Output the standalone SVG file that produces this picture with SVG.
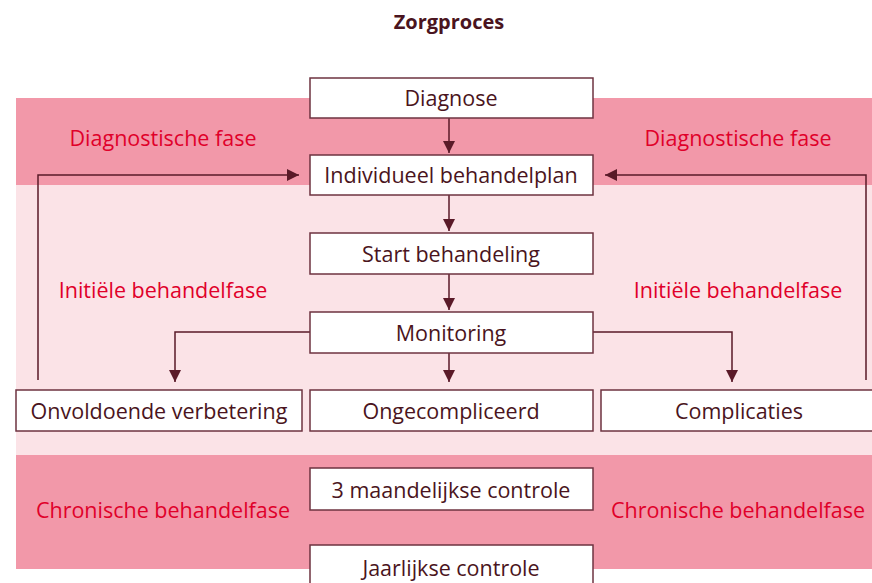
<svg xmlns="http://www.w3.org/2000/svg" width="872" height="583" viewBox="0 0 872 583">
<defs>
<marker id="ah" viewBox="0 0 10 10" refX="10" refY="5" markerWidth="12" markerHeight="12" markerUnits="userSpaceOnUse" orient="auto">
<path d="M0,0 L10,5 L0,10 z" fill="#5a1a28"/>
</marker>
<style>
.band-d{fill:#f298a9}
.band-l{fill:#fbe3e7}
.box{fill:#fff;stroke:#6e3340;stroke-width:1.5}
.t{font-family:"Open Sans","Noto Sans",sans-serif;font-size:21.5px;fill:#4a1420;text-anchor:middle}
.ph{font-family:"Open Sans","Noto Sans",sans-serif;font-size:21.5px;fill:#e0002a;text-anchor:middle}
.c{fill:none;stroke:#5a1a28;stroke-width:1.5;marker-end:url(#ah)}
</style>
</defs>
<rect width="872" height="583" fill="#fff"/>
<text x="449" y="29" class="t" style="font-weight:bold;font-size:20px">Zorgproces</text>
<g id="bands">
<rect class="band-d" x="16" y="98" width="856" height="87"/>
<rect class="band-l" x="16" y="185" width="856" height="270"/>
<rect class="band-d" x="16" y="455" width="856" height="114"/>
</g>
<g id="phases">
<text class="ph" x="163" y="146">Diagnostische fase</text>
<text class="ph" x="738" y="146">Diagnostische fase</text>
<text class="ph" x="163" y="298">Initiële behandelfase</text>
<text class="ph" x="738" y="298">Initiële behandelfase</text>
<text class="ph" x="163" y="518">Chronische behandelfase</text>
<text class="ph" x="738" y="518">Chronische behandelfase</text>
</g>
<g id="connectors">
<path class="c" d="M449,118 V153"/>
<path class="c" d="M449,195 V231"/>
<path class="c" d="M449,274 V310"/>
<path class="c" d="M449,353 V382"/>
<path class="c" d="M310,332 H175 V382"/>
<path class="c" d="M593,332 H732 V382"/>
<path class="c" d="M38,380 V175 H299"/>
<path class="c" d="M866,380 V175 H605"/>
</g>
<g id="n-diagnose"><rect class="box" x="310" y="78" width="283" height="40"/><text class="t" x="451" y="106">Diagnose</text></g>
<g id="n-plan"><rect class="box" x="310" y="155" width="283" height="40"/><text class="t" x="451" y="183">Individueel behandelplan</text></g>
<g id="n-start"><rect class="box" x="310" y="233" width="283" height="41"/><text class="t" x="451" y="262">Start behandeling</text></g>
<g id="n-monitoring"><rect class="box" x="310" y="312" width="283" height="41"/><text class="t" x="451" y="341">Monitoring</text></g>
<g id="n-onvoldoende"><rect class="box" x="16" y="390" width="286" height="41"/><text class="t" x="159" y="419">Onvoldoende verbetering</text></g>
<g id="n-ongecompliceerd"><rect class="box" x="310" y="390" width="283" height="41"/><text class="t" x="451" y="419">Ongecompliceerd</text></g>
<g id="n-complicaties"><rect class="box" x="601" y="390" width="280" height="41"/><text class="t" x="739" y="419">Complicaties</text></g>
<g id="n-3maand"><rect class="box" x="310" y="468" width="283" height="42"/><text class="t" x="451" y="498">3 maandelijkse controle</text></g>
<g id="n-jaarlijks"><rect class="box" x="310" y="545" width="283" height="45"/><text class="t" x="451" y="576">Jaarlijkse controle</text></g>
</svg>
